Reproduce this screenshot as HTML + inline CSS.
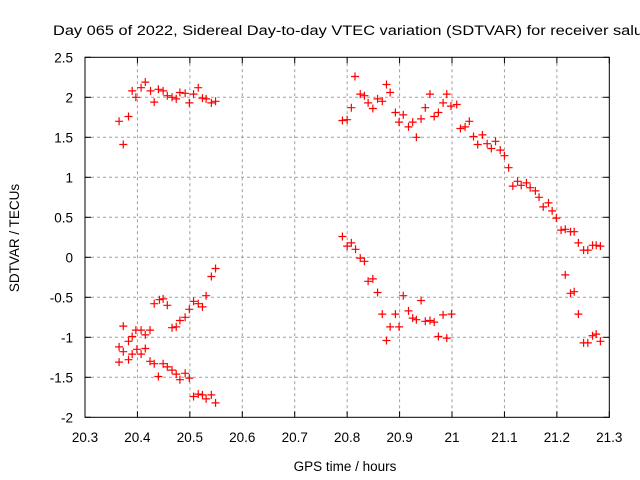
<!DOCTYPE html>
<html><head><meta charset="utf-8">
<style>
body{margin:0;background:#fff;}
svg{display:block;font-family:"Liberation Sans",sans-serif;}
</style></head>
<body>
<svg id="chart" width="640" height="480" viewBox="0 0 640 480" xmlns="http://www.w3.org/2000/svg">
<rect width="640" height="480" fill="#fff"/>
<text x="53" y="35" font-size="13.5" textLength="590" lengthAdjust="spacingAndGlyphs">Day 065 of 2022, Sidereal Day-to-day VTEC variation (SDTVAR) for receiver salu</text>
<text transform="translate(19,238) rotate(-90)" text-anchor="middle" font-size="13.5">SDTVAR / TECUs</text>
<text x="345" y="471" text-anchor="middle" font-size="13.5">GPS time / hours</text>
<g id="grid"></g>
<g id="marks"></g>
<rect x="85" y="57.3" width="524.3" height="360" fill="none" stroke="#000" stroke-width="1"/>
</svg>
<script>
const xTicks=[20.3,20.4,20.5,20.6,20.7,20.8,20.9,21,21.1,21.2,21.3];
const xTickLabels=["20.3","20.4","20.5","20.6","20.7","20.8","20.9","21","21.1","21.2","21.3"];
const yTicks=[-2,-1.5,-1,-0.5,0,0.5,1,1.5,2,2.5];
const yTickLabels=["-2","-1.5","-1","-0.5","0","0.5","1","1.5","2","2.5"];
const xs=[20.365,20.373,20.383,20.390,20.397,20.407,20.415,20.425,20.432,20.440,20.449,20.457,20.466,20.474,20.481,20.491,20.499,20.507,20.516,20.524,20.531,20.541,20.549,
20.549,20.541,20.531,20.507,20.516,20.524,20.499,20.491,20.481,20.474,20.466,20.457,20.449,20.442,20.432,20.373,20.397,20.407,20.424,20.415,20.390,20.383,20.365,20.373,20.399,20.415,20.390,20.407,20.365,20.383,20.424,20.432,20.449,20.457,20.466,20.474,20.481,20.491,20.499,20.440,20.507,20.516,20.524,20.531,20.541,20.549,
20.791,20.800,20.808,20.815,20.825,20.833,20.840,20.849,20.858,20.867,20.875,20.882,20.892,20.899,20.907,20.917,20.925,20.932,20.941,20.949,20.958,20.966,20.974,20.983,20.990,20.998,21.009,21.016,21.025,21.033,21.041,21.049,21.058,21.067,21.075,21.083,21.092,21.100,21.108,21.116,21.125,21.132,21.142,21.149,21.159,21.166,21.174,21.184,21.191,21.199,21.208,21.216,21.226,21.233,21.241,21.251,21.259,21.268,21.275,21.283,
21.216,21.226,21.233,21.241,21.251,21.259,21.268,21.275,21.283,
20.791,20.800,20.808,20.816,20.825,20.833,20.840,20.849,20.858,20.867,20.875,20.882,20.892,20.899,20.907,20.917,20.925,20.932,20.941,20.949,20.958,20.966,20.974,20.983,20.990,20.999];
const ys=[1.70,1.41,1.76,2.08,2.00,2.12,2.19,2.08,1.94,2.10,2.08,2.02,2.00,1.98,2.06,2.05,1.93,2.04,2.12,1.99,1.98,1.93,1.95,
-0.14,-0.24,-0.48,-0.55,-0.58,-0.62,-0.65,-0.75,-0.79,-0.87,-0.88,-0.60,-0.52,-0.53,-0.58,-0.86,-0.91,-0.91,-0.91,-0.97,-0.99,-1.05,-1.12,-1.18,-1.15,-1.14,-1.21,-1.21,-1.31,-1.28,-1.30,-1.33,-1.33,-1.37,-1.41,-1.46,-1.53,-1.45,-1.51,-1.49,-1.74,-1.71,-1.72,-1.77,-1.72,-1.82,
1.71,1.72,1.87,2.26,2.04,2.02,1.93,1.86,1.98,1.95,2.16,2.06,1.81,1.69,1.78,1.63,1.69,1.50,1.73,1.87,2.04,1.76,1.81,1.93,2.04,1.89,1.91,1.61,1.63,1.70,1.51,1.41,1.53,1.42,1.36,1.45,1.34,1.27,1.12,0.89,0.95,0.90,0.93,0.87,0.83,0.75,0.63,0.68,0.58,0.49,0.34,0.35,0.32,0.32,0.18,0.09,0.09,0.15,0.15,0.14,
-0.22,-0.45,-0.43,-0.71,-1.07,-1.07,-0.98,-0.96,-1.05,
0.26,0.14,0.18,0.10,-0.01,-0.05,-0.30,-0.27,-0.44,-0.71,-1.04,-0.87,-0.71,-0.87,-0.48,-0.67,-0.76,-0.78,-0.54,-0.80,-0.79,-0.81,-0.99,-0.72,-1.01,-0.71];

const NS="http://www.w3.org/2000/svg";
const L=85,R=609.3,T=57.3,B=417.3;
function sx(v){return L+(v-20.3)/(21.3-20.3)*(R-L);}
function sy(v){return B-(v+2)/(2.5+2)*(B-T);}
const grid=document.getElementById('grid');
const marks=document.getElementById('marks');
function mk(tag,attrs,parent){const e=document.createElementNS(NS,tag);for(const k in attrs)e.setAttribute(k,attrs[k]);parent.appendChild(e);return e;}
xTicks.forEach((t,i)=>{
  const x=sx(t);
  if(i>0&&i<xTicks.length-1){
    const g=mk('line',{x1:x,x2:x,y1:T,y2:B,stroke:'#a0a0a0','stroke-dasharray':'3,3'},grid);
    
    
  }
  const t1=mk('line',{x1:x,x2:x,y1:B,y2:B-6,stroke:'#000'},grid);
  
  
  const t2=mk('line',{x1:x,x2:x,y1:T,y2:T+6,stroke:'#000'},grid);
  
  
  const lb=mk('text',{x:x,y:442,'text-anchor':'middle','font-size':'13.5'},grid);
  lb.textContent=xTickLabels[i];
  
  
});
yTicks.forEach((t,i)=>{
  const y=sy(t);
  if(i>0&&i<yTicks.length-1){
    const g=mk('line',{x1:L,x2:R,y1:y,y2:y,stroke:'#a0a0a0','stroke-dasharray':'3,3'},grid);
    
    
  }
  const t1=mk('line',{x1:L,x2:L+6,y1:y,y2:y,stroke:'#000'},grid);
  
  
  const t2=mk('line',{x1:R,x2:R-6,y1:y,y2:y,stroke:'#000'},grid);
  
  
  const lb=mk('text',{x:73,y:y+5,'text-anchor':'end','font-size':'13.5'},grid);
  lb.textContent=yTickLabels[i];
  
  
});
xs.forEach((xv,i)=>{
  const x=sx(xv),y=sy(ys[i]);
  const p=mk('path',{d:`M${x-4},${y}H${x+4}M${x},${y-4}V${y+4}`,stroke:'#f00','stroke-width':'1.2',fill:'none'},marks);
  
  
});
</script>
</body></html>
